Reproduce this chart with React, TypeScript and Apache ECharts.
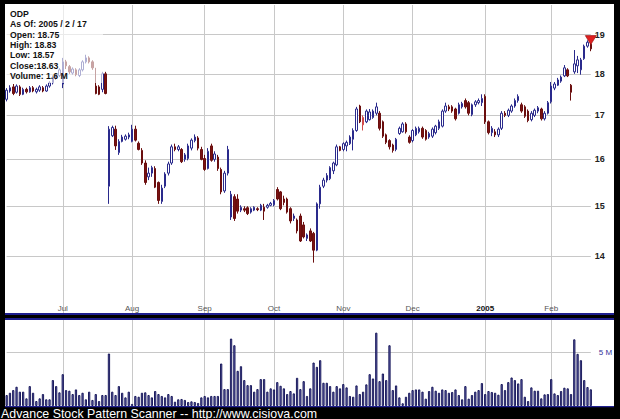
import React, { useEffect, useRef } from 'react';
import * as echarts from 'echarts';

// ---- Data ----
const startDate = '2004-06-07';
const endDate = '2005-02-17';
const holidays = ['2004-06-11', '2004-07-05', '2004-09-06', '2004-11-25', '2004-12-24', '2005-01-17'];

function tradingDays(start: string, end: string): string[] {
  const out: string[] = [];
  const d = new Date(start + 'T00:00:00Z');
  const e = new Date(end + 'T00:00:00Z');
  while (d <= e) {
    const wd = d.getUTCDay();
    const s = d.toISOString().slice(0, 10);
    if (wd !== 0 && wd !== 6 && holidays.indexOf(s) < 0) out.push(s);
    d.setUTCDate(d.getUTCDate() + 1);
  }
  return out;
}
const dates = tradingDays(startDate, endDate);

const opens = [
  17.38,17.58,17.68,17.55,17.68,17.50,17.62,17.56,17.66,17.56,
  17.60,17.66,17.58,17.70,17.78,17.90,17.96,17.75,18.30,18.18,
  18.02,18.10,17.96,18.10,18.30,18.40,18.30,17.70,17.68,17.62,
  18.00,15.42,16.53,16.68,16.15,16.40,16.45,16.50,16.40,16.68,
  16.36,16.20,15.92,15.62,15.70,15.80,15.50,15.10,15.42,15.70,
  15.92,16.28,16.22,16.22,16.00,16.02,16.25,16.42,16.48,16.22,
  16.02,15.80,16.30,16.00,16.05,15.78,15.32,15.70,14.78,15.20,
  15.15,14.92,14.95,14.97,14.88,14.92,14.95,14.92,14.98,14.98,
  15.02,15.03,15.35,15.30,15.15,15.15,14.95,14.75,14.72,14.80,
  14.62,14.35,14.50,14.45,14.12,15.05,15.42,15.55,15.58,15.75,
  15.88,16.28,16.22,16.30,16.35,16.45,16.65,17.22,16.95,16.85,
  16.90,16.95,17.05,17.05,16.85,16.55,16.42,16.32,16.22,16.58,
  16.62,16.80,16.50,16.42,16.55,16.62,16.70,16.65,16.50,16.52,
  16.60,16.70,16.75,17.10,17.20,17.20,17.15,17.05,17.20,17.35,
  17.30,17.02,17.25,17.30,17.30,17.45,16.85,16.60,16.62,16.55,
  16.70,17.05,17.00,17.10,17.22,17.35,17.25,17.20,17.10,16.90,
  17.00,17.10,17.15,16.92,17.05,17.32,17.65,17.72,17.82,17.95,
  18.10,17.72,18.05,18.20,18.10,18.38,18.70,18.75,
];
const closes = [
  17.60,17.66,17.52,17.70,17.50,17.62,17.56,17.66,17.58,17.62,
  17.68,17.58,17.70,17.78,17.92,17.96,18.10,18.30,18.20,18.05,
  18.12,17.98,18.10,18.30,18.40,18.30,18.15,17.52,17.50,18.00,
  17.52,16.68,16.72,16.30,16.40,16.50,16.52,16.55,16.68,16.43,
  16.22,15.92,15.50,15.70,15.82,15.40,15.12,15.38,15.68,15.90,
  16.28,16.22,16.28,15.95,16.10,16.30,16.43,16.50,16.25,16.00,
  15.78,16.18,15.98,16.12,15.80,15.30,15.70,16.22,15.25,14.75,
  14.90,14.98,14.92,14.85,14.95,14.98,14.93,15.02,14.90,15.02,
  15.06,15.12,15.15,14.95,15.08,14.88,14.70,14.80,14.50,14.30,
  14.38,14.42,14.30,14.12,15.05,15.40,15.55,15.65,15.82,15.92,
  16.28,16.20,16.35,16.38,16.50,16.65,17.15,16.85,16.78,17.10,
  17.08,17.10,17.20,16.70,16.52,16.38,16.28,16.20,16.45,16.70,
  16.80,16.62,16.38,16.65,16.70,16.70,16.50,16.45,16.58,16.68,
  16.75,16.85,17.10,17.22,17.15,17.10,16.92,17.25,17.28,17.20,
  17.05,17.25,17.32,17.35,17.40,16.85,16.60,16.70,16.55,16.68,
  17.05,17.00,17.12,17.22,17.35,17.45,17.10,16.98,16.88,17.05,
  17.12,17.18,16.92,17.05,17.30,17.70,17.75,17.85,17.92,18.15,
  17.95,17.55,18.25,18.35,18.35,18.70,18.80,18.63,
];
const lows = [
  17.33,17.54,17.48,17.52,17.46,17.48,17.52,17.54,17.55,17.52,
  17.56,17.55,17.56,17.66,17.74,17.85,17.92,17.65,18.12,18.00,
  17.98,17.94,17.92,18.06,18.26,18.26,18.10,17.50,17.48,17.55,
  17.50,15.05,16.50,16.21,16.10,16.38,16.42,16.45,16.38,16.40,
  16.20,15.88,15.45,15.55,15.62,15.38,15.05,15.05,15.38,15.65,
  15.88,16.18,16.18,15.92,15.95,15.98,16.20,16.38,16.20,15.98,
  15.75,15.78,15.95,15.95,15.75,15.25,15.28,15.65,14.72,14.70,
  14.85,14.88,14.88,14.82,14.85,14.90,14.90,14.90,14.72,14.95,
  15.00,15.00,15.12,14.92,15.02,14.85,14.65,14.70,14.45,14.28,
  14.35,14.30,14.28,13.88,14.10,14.95,15.38,15.50,15.55,15.68,
  15.85,16.18,16.18,16.18,16.32,16.20,16.62,16.82,16.65,16.82,
  16.88,16.92,17.00,16.65,16.48,16.34,16.22,16.15,16.18,16.55,
  16.60,16.58,16.35,16.38,16.52,16.58,16.46,16.42,16.46,16.48,
  16.56,16.66,16.72,17.06,17.10,17.06,16.88,17.02,17.16,17.16,
  17.00,16.98,17.20,17.26,17.22,16.80,16.56,16.52,16.50,16.50,
  16.66,16.96,16.96,17.06,17.18,17.30,17.06,16.94,16.84,16.86,
  16.96,17.05,16.88,16.88,17.02,17.28,17.60,17.70,17.78,17.92,
  17.92,17.35,18.00,18.02,17.98,18.35,18.66,18.57,
];
const highs = [
  17.65,17.72,17.75,17.74,17.72,17.66,17.66,17.70,17.70,17.66,
  17.72,17.70,17.74,17.82,17.96,18.02,18.14,18.40,18.35,18.22,
  18.16,18.14,18.14,18.34,18.48,18.44,18.34,18.15,17.72,18.05,
  18.05,16.75,16.76,16.76,16.45,16.55,16.56,16.60,16.78,16.76,
  16.40,16.25,15.98,15.82,15.86,15.85,15.52,15.45,15.72,15.95,
  16.33,16.35,16.32,16.25,16.14,16.35,16.47,16.56,16.52,16.28,
  16.10,16.25,16.35,16.18,16.10,15.82,15.75,16.30,15.32,15.25,
  15.25,15.02,15.00,15.00,14.98,15.00,14.98,15.05,15.05,15.05,
  15.09,15.15,15.40,15.32,15.22,15.18,14.98,14.85,14.75,14.85,
  14.68,14.45,14.55,14.48,15.08,15.45,15.60,15.70,15.85,15.95,
  16.33,16.30,16.38,16.42,16.54,16.70,17.20,17.25,17.00,17.14,
  17.15,17.14,17.30,17.10,16.88,16.58,16.45,16.35,16.48,16.74,
  16.84,16.84,16.54,16.68,16.74,16.74,16.74,16.68,16.62,16.72,
  16.78,16.90,17.14,17.30,17.25,17.24,17.18,17.30,17.32,17.40,
  17.34,17.28,17.36,17.40,17.50,17.50,16.88,16.75,16.68,16.72,
  17.10,17.10,17.16,17.26,17.40,17.50,17.30,17.24,17.14,17.10,
  17.16,17.22,17.18,17.10,17.34,17.80,17.80,17.90,17.96,18.22,
  18.14,17.75,18.60,18.45,18.40,18.74,18.85,18.83,
];
const volumesM = [
  1.02,1.23,1.48,1.79,1.33,1.33,0.71,1.85,1.23,0.46,
  0.71,1.11,0.62,0.62,2.41,1.85,1.27,2.96,1.48,1.42,
  1.11,1.54,1.02,1.23,0.62,1.33,0.56,1.11,0.46,1.02,
  1.02,4.88,1.33,1.02,1.85,1.23,0.80,1.33,0.19,0.93,
  0.86,1.23,1.27,1.02,0.80,1.39,1.11,0.93,0.80,1.11,
  0.93,0.40,0.62,0.65,0.56,0.37,0.43,0.37,0.28,0.80,
  0.93,0.80,0.93,0.93,0.93,3.95,1.57,1.57,6.27,5.65,
  3.27,3.70,2.41,1.94,1.94,1.33,1.57,2.50,2.50,1.33,
  1.64,1.54,2.22,1.88,1.64,1.11,1.39,1.17,2.62,1.57,
  2.31,0.93,1.64,4.04,3.64,4.26,2.16,2.16,1.85,1.33,
  1.85,1.64,2.04,1.73,0.93,0.86,1.91,1.11,1.33,2.01,
  2.96,2.56,6.82,2.31,3.02,2.41,5.65,1.48,1.91,0.80,
  0.25,0.86,1.23,1.48,1.54,1.54,1.33,0.68,1.39,1.79,
  1.42,1.23,1.54,1.48,1.23,1.30,1.54,1.02,0.62,1.85,
  0.68,1.02,1.33,1.48,2.13,1.11,1.39,1.30,1.23,1.05,
  2.04,1.48,2.22,2.65,2.41,2.10,2.50,0.86,0.46,1.73,
  1.42,1.42,0.71,1.08,1.11,2.50,1.17,1.02,1.39,1.70,
  1.64,1.11,6.20,4.85,4.26,2.41,1.76,1.55,
];
const highlightedIndex = 108;
const priceTicks = [14, 15, 16, 17, 18, 19];
const volumeTicks = [5];
const priceAxisMin = 12.95;
const priceAxisMax = 19.79;
const volumeAxisMax = 8;
const monthNames = ['Jan','Feb','Mar','Apr','May','Jun','Jul','Aug','Sep','Oct','Nov','Dec'];
const infoLines = ['ODP', 'As Of: 2005 / 2 / 17', 'Open: 18.75', 'High: 18.83', 'Low: 18.57', 'Close:18.63', 'Volume: 1.6 M'];
const footerText = 'Advance Stock Pattern Scanner -- http://www.cisiova.com';

const monthStarts = new Set<number>();
dates.forEach((d, i) => {
  if (i > 0 && d.slice(5, 7) !== dates[i - 1].slice(5, 7)) monthStarts.add(i);
});
function monthLabel(d: string): string {
  const m = parseInt(d.slice(5, 7), 10) - 1;
  return m === 0 ? '{y|' + d.slice(0, 4) + '}' : monthNames[m];
}

const FONT = '"Liberation Sans", Arial, sans-serif';
const NAVY = '#1f1f8f';

export default function App() {
  const ref = useRef<HTMLDivElement>(null);
  useEffect(() => {
    if (!ref.current) return;
    const chart = echarts.init(ref.current, undefined, { renderer: 'svg' });
    const candleData = dates.map((_, i) => {
      const v = [Math.log(opens[i]), Math.log(closes[i]), Math.log(lows[i]), Math.log(highs[i])];
      if (i === highlightedIndex) {
        return { value: v, itemStyle: { color0: '#f07878', borderColor0: '#d04848', color: '#f07878', borderColor: '#d04848' } };
      }
      return v;
    });
    const last = dates.length - 1;
    const gridLine = { color: '#c8c8c8', width: 1 };
    const option: any = {
      animation: false,
      backgroundColor: '#000',
      textStyle: { fontFamily: FONT },
      grid: [
        { left: 6.65, right: 29.2, top: 5, height: 308 },
        { left: 6.65, right: 29.2, top: 320, height: 86 },
      ],
      xAxis: [
        {
          type: 'category', gridIndex: 0, data: dates, boundaryGap: false,
          axisLine: { show: false }, axisTick: { show: false },
          axisLabel: {
            inside: true, margin: 1, fontSize: 8, color: '#555', fontFamily: FONT,
            interval: (i: number) => monthStarts.has(i),
            formatter: (v: string) => monthLabel(v),
            rich: { y: { fontSize: 8, color: '#111', fontWeight: 'bold', fontFamily: FONT } },
          },
          splitLine: { show: true, interval: (i: number) => monthStarts.has(i), lineStyle: gridLine },
        },
        {
          type: 'category', gridIndex: 1, data: dates, boundaryGap: false,
          axisLine: { show: false }, axisTick: { show: false }, axisLabel: { show: false },
          splitLine: { show: true, interval: (i: number) => monthStarts.has(i), lineStyle: gridLine },
        },
      ],
      yAxis: [
        {
          type: 'value', gridIndex: 0, position: 'right',
          min: Math.log(priceAxisMin), max: Math.log(priceAxisMax),
          axisLine: { show: false },
          axisTick: { show: false, customValues: priceTicks.map((v) => Math.log(v)) },
          axisLabel: {
            customValues: priceTicks.map((v) => Math.log(v)),
            formatter: (v: number) => String(Math.round(Math.exp(v))),
            fontSize: 9, fontWeight: 'bold', color: '#222', margin: 4, fontFamily: FONT,
          },
          splitLine: { show: true, lineStyle: gridLine },
        },
        {
          type: 'value', gridIndex: 1, position: 'right', min: 0, max: volumeAxisMax,
          axisLine: { show: false },
          axisTick: { show: false, customValues: volumeTicks },
          axisLabel: {
            customValues: volumeTicks, formatter: (v: number) => v + ' M',
            fontSize: 8, color: '#333399', margin: 8, fontFamily: FONT,
          },
          splitLine: { show: true, lineStyle: gridLine },
        },
      ],
      series: [
        {
          type: 'candlestick', xAxisIndex: 0, yAxisIndex: 0, data: candleData,
          barWidth: 2, clip: false,
          itemStyle: { color: '#ffffff', color0: '#7a1212', borderColor: '#2a2a8c', borderColor0: '#6a0e0e', borderWidth: 1 },
          markPoint: {
            silent: true,
            label: { show: false },
            data: [{
              coord: [dates[last], Math.log(highs[last])],
              symbol: 'triangle', symbolRotate: 180, symbolSize: [11, 9], symbolOffset: [0, -1],
              itemStyle: { color: '#e02020', borderColor: '#900000', borderWidth: 0.6 },
            }],
          },
        },
        {
          type: 'bar', xAxisIndex: 1, yAxisIndex: 1, data: volumesM, barWidth: 2.2, clip: false,
          itemStyle: { color: '#7070b8', borderColor: '#0c0c50', borderWidth: 0.9 },
        },
      ],
      graphic: [
        { type: 'rect', z: -1, silent: true, shape: { x: 5, y: 4, width: 609, height: 309 }, style: { fill: '#fff' } },
        { type: 'rect', z: -1, silent: true, shape: { x: 5, y: 313, width: 609, height: 2 }, style: { fill: NAVY } },
        { type: 'rect', z: -1, silent: true, shape: { x: 5, y: 318, width: 609, height: 2 }, style: { fill: NAVY } },
        { type: 'rect', z: -1, silent: true, shape: { x: 5, y: 320, width: 609, height: 86 }, style: { fill: '#fff' } },
        { type: 'rect', z: 5, silent: true, shape: { x: 5, y: 406, width: 609, height: 1.2 }, style: { fill: NAVY } },
        { type: 'rect', z: 50, silent: true, shape: { x: 5, y: 4, width: 98, height: 79 }, style: { fill: 'rgba(255,255,255,0.62)' } },
        ...infoLines.map((t, k) => ({
          type: 'text', z: 51, silent: true, x: 10, y: 14 + k * 10.3,
          style: { text: t, fill: '#111', font: 'bold 8.7px ' + FONT, verticalAlign: 'middle' },
        })),
        {
          type: 'text', z: 51, silent: true, x: 1, y: 413.5,
          style: { text: footerText, fill: '#fff', font: '12.4px ' + FONT, verticalAlign: 'middle' },
        },
      ],
    };
    chart.setOption(option);
    return () => chart.dispose();
  }, []);
  return <div ref={ref} style={{ position: 'fixed', left: 0, top: 0, width: 620, height: 419 }} />;
}
